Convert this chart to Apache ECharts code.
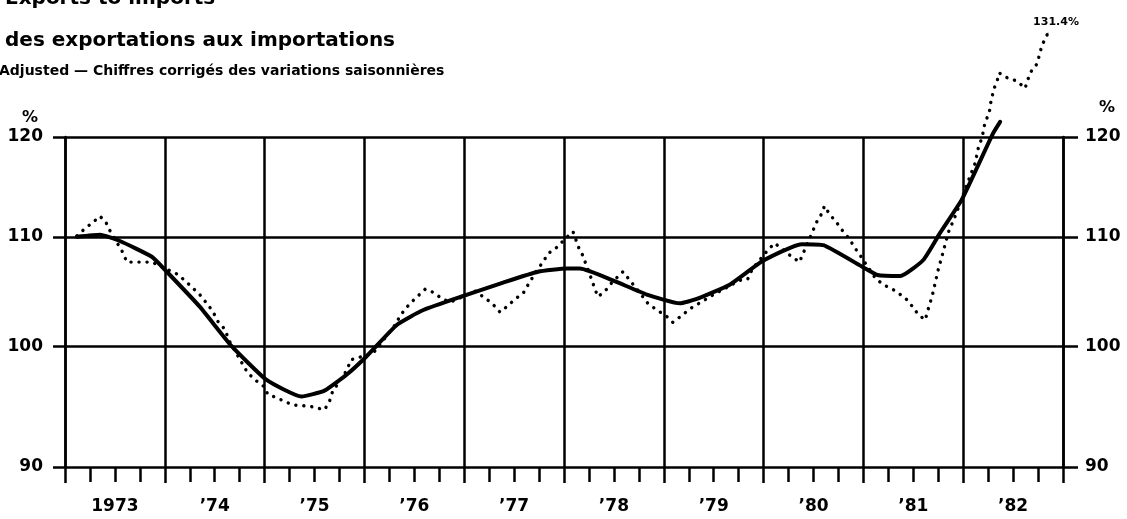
<!DOCTYPE html>
<html><head><meta charset="utf-8">
<script src="https://cdn.jsdelivr.net/npm/echarts@6/dist/echarts.min.js"></script>
<style>html,body{margin:0;padding:0;background:#fff}#c{width:1127px;height:519px}</style>
</head><body><div id="c"></div>
<script>
// ---- data ----
const yearLabels = ['1973', '\u201974', '\u201975', '\u201976', '\u201977', '\u201978', '\u201979', '\u201980', '\u201981', '\u201982'];
const yTicks = [90, 100, 110, 120];
const titleLines = ['Exports to imports', 'des exportations aux importations'];
const subtitle = 'Adjusted \u2014 Chiffres corrig\u00e9s des variations saisonni\u00e8res';
const unitLabel = '%';

// trend (solid line), decimal years
const solidDates = [1973.12, 1973.35, 1973.55, 1973.87, 1974.02, 1974.35, 1974.67, 1975.02, 1975.37, 1975.6, 1975.83, 1976.02, 1976.33, 1976.59, 1977.0, 1977.39, 1977.74, 1978.03, 1978.16, 1978.49, 1978.83, 1979.16, 1979.33, 1979.66, 1979.99, 1980.38, 1980.6, 1981.0, 1981.14, 1981.37, 1981.6, 1981.77, 1981.99, 1982.3, 1982.37];
const solidValues = [110.0, 110.2, 109.6, 108.1, 106.7, 103.5, 100.0, 97.1, 95.7, 96.2, 97.6, 99.1, 101.9, 103.2, 104.5, 105.7, 106.7, 107.0, 107.0, 105.9, 104.6, 103.8, 104.2, 105.5, 107.7, 109.3, 109.2, 107.1, 106.4, 106.3, 107.8, 110.4, 113.7, 120.4, 121.6];

// monthly ratio (dotted line), decimal years
const dottedDates = [1973.12, 1973.2, 1973.28, 1973.35, 1973.41, 1973.45, 1973.53, 1973.58, 1973.62, 1973.87, 1974.12, 1974.2, 1974.28, 1974.35, 1974.42, 1974.48, 1974.53, 1974.6, 1974.65, 1974.83, 1974.92, 1975.0, 1975.03, 1975.12, 1975.2, 1975.28, 1975.45, 1975.6, 1975.65, 1975.68, 1975.83, 1975.86, 1975.94, 1976.09, 1976.31, 1976.36, 1976.41, 1976.47, 1976.54, 1976.61, 1976.69, 1976.78, 1976.86, 1977.11, 1977.19, 1977.28, 1977.36, 1977.44, 1977.51, 1977.59, 1977.64, 1977.74, 1977.79, 1977.84, 1977.93, 1978.01, 1978.09, 1978.15, 1978.19, 1978.22, 1978.28, 1978.31, 1978.34, 1978.41, 1978.48, 1978.59, 1978.66, 1978.73, 1978.84, 1978.93, 1979.02, 1979.09, 1979.18, 1979.26, 1979.5, 1979.76, 1979.84, 1979.89, 1980.04, 1980.11, 1980.27, 1980.36, 1980.39, 1980.46, 1980.53, 1980.58, 1980.61, 1980.66, 1980.73, 1980.79, 1980.86, 1980.91, 1980.97, 1981.12, 1981.2, 1981.29, 1981.37, 1981.44, 1981.5, 1981.55, 1981.62, 1981.64, 1981.69, 1981.75, 1981.8, 1981.85, 1981.92, 1981.97, 1982.07, 1982.12, 1982.15, 1982.19, 1982.22, 1982.26, 1982.28, 1982.31, 1982.34, 1982.36, 1982.45, 1982.54, 1982.62, 1982.67, 1982.74, 1982.79, 1982.85];
const dottedValues = [110.1, 110.8, 111.4, 112.0, 111.4, 110.6, 109.3, 108.5, 107.6, 107.6, 106.5, 105.9, 105.2, 104.6, 103.8, 103.1, 102.2, 101.5, 100.4, 97.7, 97.0, 96.5, 95.9, 95.6, 95.3, 95.0, 94.9, 94.6, 95.3, 96.1, 98.0, 98.8, 99.0, 99.4, 101.9, 102.7, 103.3, 103.9, 104.5, 105.1, 104.8, 104.2, 103.9, 104.9, 104.4, 103.8, 103.0, 103.6, 104.2, 104.7, 105.5, 107.0, 107.6, 108.4, 109.0, 109.8, 110.5, 108.9, 108.2, 107.4, 105.9, 105.1, 104.4, 104.9, 105.7, 106.7, 105.9, 105.1, 103.8, 103.2, 102.7, 102.1, 102.7, 103.3, 104.6, 105.9, 106.0, 107.0, 108.7, 109.4, 108.2, 107.6, 108.3, 109.8, 111.4, 112.2, 113.0, 112.2, 111.4, 110.6, 109.8, 109.0, 108.2, 106.1, 105.5, 105.1, 104.6, 104.1, 103.4, 102.8, 102.3, 103.0, 104.5, 106.9, 108.6, 110.4, 112.0, 113.3, 116.0, 117.3, 118.8, 120.0, 121.6, 122.5, 123.9, 125.2, 126.0, 126.9, 126.3, 126.0, 125.2, 126.9, 127.9, 130.0, 131.4];

// ---- chart ----
const FONT = '"DejaVu Sans", sans-serif';
const INK = '#000';
const GRIDW = 2.5;
const chart = echarts.init(document.getElementById('c'), null, { renderer: 'canvas' });

const solidData = solidDates.map((d, i) => [d, solidValues[i]]);
const last = dottedDates.length - 1;
const dottedData = dottedDates.map((d, i) => i === last ? {
  value: [d, dottedValues[i]],
  symbol: 'circle', symbolSize: 1,
  label: {
    show: true, position: 'top', distance: 5, offset: [8, 0],
    formatter: dottedValues[i].toFixed(1) + '%',
    fontFamily: FONT, fontWeight: 'bold', fontSize: 11, color: INK
  }
} : [d, dottedValues[i]]);

const yAxisBase = {
  type: 'log', logBase: 10, min: yTicks[0], max: yTicks[yTicks.length - 1],
  axisLine: { show: true, lineStyle: { color: INK, width: GRIDW } },
  axisLabel: { customValues: yTicks, margin: 22, fontFamily: FONT, fontWeight: 'bold', fontSize: 17, color: INK },
};

chart.setOption({
  animation: false,
  backgroundColor: '#fff',
  grid: { left: 65, right: 64, top: 137, bottom: 52, containLabel: false },
  xAxis: [
    {
      type: 'value', min: 1973, max: 1983, interval: 1, position: 'bottom',
      axisLine: { show: false, onZero: false },
      axisTick: { show: true, length: 16, lineStyle: { color: INK, width: GRIDW } },
      axisLabel: { show: false },
      splitLine: { show: true, lineStyle: { color: INK, width: GRIDW } }
    },
    {
      type: 'value', min: 1973, max: 1983, interval: 0.25, position: 'bottom',
      axisLine: { show: false, onZero: false },
      axisTick: { show: true, length: 15, lineStyle: { color: INK, width: GRIDW } },
      axisLabel: {
        margin: 31, fontFamily: FONT, fontWeight: 'bold', fontSize: 17, color: INK,
        formatter: v => {
          const f = Math.round((v - Math.floor(v)) * 100);
          return f === 50 ? yearLabels[Math.floor(v) - 1973] : '';
        }
      },
      splitLine: { show: false }
    }
  ],
  yAxis: [
    Object.assign({}, yAxisBase, {
      position: 'left',
      axisTick: { show: true, length: 12, customValues: yTicks, lineStyle: { color: INK, width: GRIDW } },
      splitLine: { show: true, lineStyle: { color: INK, width: GRIDW } }
    }),
    Object.assign({}, yAxisBase, {
      position: 'right',
      axisTick: { show: true, length: 15, customValues: yTicks, lineStyle: { color: INK, width: GRIDW } },
      splitLine: { show: false }
    })
  ],
  graphic: [
    { type: 'text', x: 5, y: -1, style: { text: titleLines[0], font: 'bold 20px ' + FONT, fill: INK, verticalAlign: 'middle' } },
    { type: 'text', x: 5, y: 41, style: { text: titleLines[1], font: 'bold 20px ' + FONT, fill: INK, verticalAlign: 'middle' } },
    { type: 'text', x: -1, y: 71.5, style: { text: subtitle, font: 'bold 14px ' + FONT, fill: INK, verticalAlign: 'middle' } },
    { type: 'text', x: 30, y: 118, style: { text: unitLabel, font: 'bold 16px ' + FONT, fill: INK, align: 'center', verticalAlign: 'middle' } },
    { type: 'text', x: 1107, y: 108, style: { text: unitLabel, font: 'bold 16px ' + FONT, fill: INK, align: 'center', verticalAlign: 'middle' } }
  ],
  series: [
    {
      name: 'ratio', type: 'line', xAxisIndex: 0, yAxisIndex: 0,
      data: dottedData, symbol: 'none', clip: false, z: 3,
      itemStyle: { color: INK },
      lineStyle: { color: INK, width: 3.4, type: [0.1, 7.9], cap: 'round' }
    },
    {
      name: 'trend', type: 'line', xAxisIndex: 0, yAxisIndex: 0,
      data: solidData, symbol: 'none', clip: false, z: 4, smooth: 0.15,
      lineStyle: { color: INK, width: 4, cap: 'round', join: 'round' }
    }
  ]
});
</script>
</body></html>
